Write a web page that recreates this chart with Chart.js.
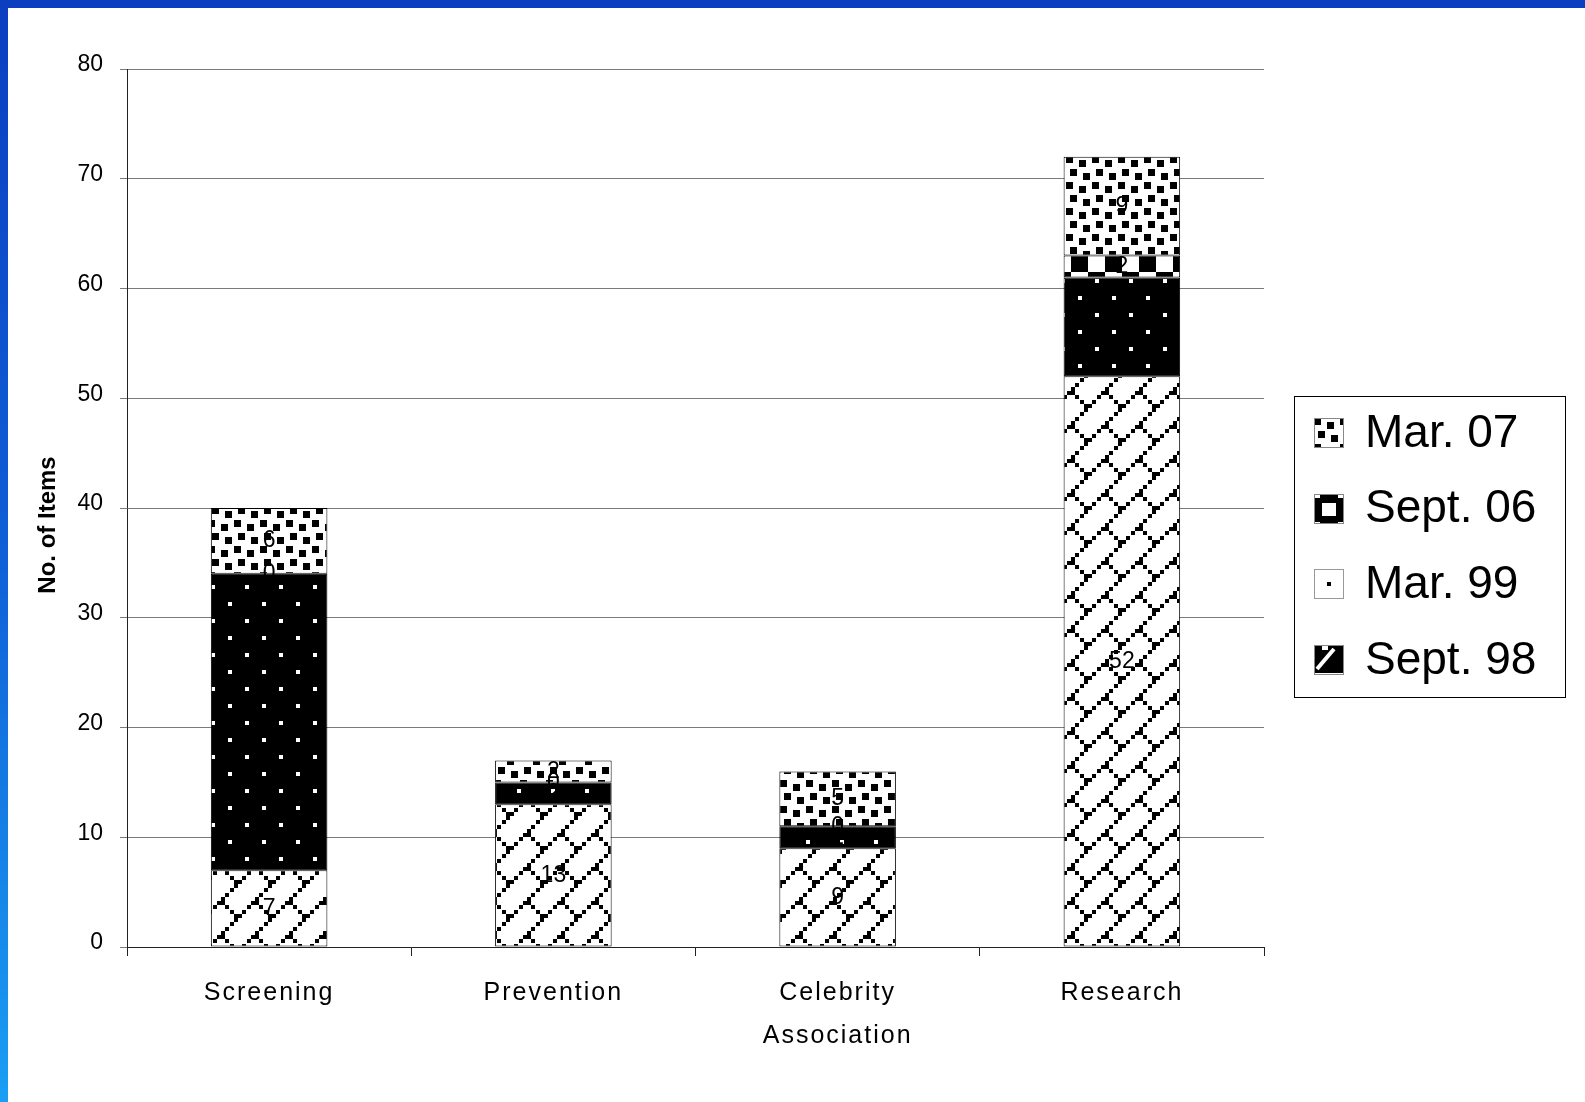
<!DOCTYPE html>
<html>
<head>
<meta charset="utf-8">
<title>No. of Items by category</title>
<script src="https://cdn.jsdelivr.net/npm/chart.js@4.4.1/dist/chart.umd.min.js"></script>
<style>
  html, body { margin: 0; padding: 0; background: #fff; overflow: hidden; }
  #wrap { position: relative; width: 1585px; height: 1102px; }
  #c { position: absolute; left: 0; top: 0; }
  #topbar { position: absolute; left: 0; top: 0; width: 1585px; height: 8px; background: #0b3fbf; }
  #leftbar { position: absolute; left: 0; top: 0; width: 8px; height: 1102px;
             background: linear-gradient(#0b3fbf, #0f5fd6 50%, #1a9ef4); }
</style>
</head>
<body>
<div id="wrap">
  <canvas id="c" width="1585" height="1102"></canvas>
  <div id="topbar"></div>
  <div id="leftbar"></div>
</div>
<script>
// ---- data ----
const categories = ['Screening', 'Prevention', ['Celebrity', 'Association'], 'Research'];
const seriesNames = ['Sept. 98', 'Mar. 99', 'Sept. 06', 'Mar. 07'];
const sept98 = [7, 13, 9, 52];
const mar99  = [27, 2, 2, 9];
const sept06 = [0, 0, 0, 2];
const mar07  = [6, 2, 5, 9];
const yMin = 0, yMax = 80, yStep = 10;
const yTitle = 'No. of Items';

const FONT = '"Liberation Sans", Arial, Helvetica, sans-serif';

// ---- fill patterns ----
const canvas = document.getElementById('c');
const mainCtx = canvas.getContext('2d');

function makePattern(size, draw) {
  const t = document.createElement('canvas');
  t.width = size; t.height = size;
  const g = t.getContext('2d');
  draw(g, size);
  return mainCtx.createPattern(t, 'repeat');
}

// diagonal brick
const brickPattern = makePattern(34, (g, s) => {
  g.fillStyle = '#fff'; g.fillRect(0, 0, s, s);
  g.fillStyle = '#000';
  for (let k = 0; k < 8; k++) {
    const x = Math.round(k * s / 8);
    g.fillRect(x, s - x - 4, 4, 4);
  }
  for (let k = 0; k < 4; k++) {
    const x = 17 + Math.round(k * s / 8);
    g.fillRect(x, x, 4, 4);
  }
});

// black with small white dots
const dottedBlackPattern = makePattern(34, (g, s) => {
  g.fillStyle = '#000'; g.fillRect(0, 0, s, s);
  g.fillStyle = '#fff';
  g.fillRect(7, 7, 4, 4);
  g.fillRect(24, 24, 4, 4);
});

// large checkerboard
const checkerPattern = makePattern(34, (g, s) => {
  g.fillStyle = '#fff'; g.fillRect(0, 0, s, s);
  g.fillStyle = '#000';
  g.fillRect(0, 0, 17, 17);
  g.fillRect(17, 17, 17, 17);
});

// confetti squares
const confettiPattern = makePattern(26, (g, s) => {
  g.fillStyle = '#fff'; g.fillRect(0, 0, s, s);
  g.fillStyle = '#000';
  [[0, 0], [13, 4], [4, 13], [17, 17]].forEach(([x, y]) => g.fillRect(x, y, 7, 7));
});

const fills = [brickPattern, dottedBlackPattern, checkerPattern, confettiPattern];

// ---- scales with spaced labels ----
const { CategoryScale, LinearScale } = Chart;

class SpacedCategoryScale extends CategoryScale {
  drawLabels(area) {
    const ctx = this.ctx;
    ctx.save();
    ctx.letterSpacing = '2px';
    super.drawLabels(area);
    ctx.restore();
  }
}
SpacedCategoryScale.id = 'spacedCategory';
SpacedCategoryScale.defaults = CategoryScale.defaults;

class ValueScale extends LinearScale {
  drawTitle() {
    const ctx = this.ctx;
    ctx.save();
    ctx.translate(0, 17);
    super.drawTitle();
    ctx.restore();
  }
}
ValueScale.id = 'valueScale';
ValueScale.defaults = LinearScale.defaults;

Chart.register(SpacedCategoryScale, ValueScale);

// ---- value labels in the middle of each segment ----
const segmentLabels = {
  id: 'segmentLabels',
  afterDatasetsDraw(chart) {
    const ctx = chart.ctx;
    ctx.save();
    ctx.font = '23px ' + FONT;
    ctx.fillStyle = '#000';
    ctx.textAlign = 'center';
    ctx.textBaseline = 'middle';
    chart.data.datasets.forEach((ds, i) => {
      const meta = chart.getDatasetMeta(i);
      meta.data.forEach((bar, j) => {
        const p = bar.getProps(['x', 'y', 'base'], true);
        ctx.fillText(String(ds.data[j]), p.x, (p.y + p.base) / 2);
      });
    });
    ctx.restore();
  }
};

// ---- boxed legend on the right ----
function drawSwatch(ctx, idx, x, y, s) {
  ctx.save();
  if (idx === 3) {            // Mar. 07
    ctx.fillStyle = confettiPattern;
    ctx.translate(x, y);
    ctx.fillRect(0, 0, s, s);
    ctx.strokeStyle = '#888'; ctx.lineWidth = 1;
    ctx.strokeRect(0.5, 0.5, s - 1, s - 1);
  } else if (idx === 2) {     // Sept. 06
    ctx.fillStyle = '#000';
    ctx.fillRect(x, y + 4, s, s - 6);
    ctx.fillRect(x + 6, y, s - 12, s);
    ctx.fillStyle = '#fff';
    ctx.fillRect(x + 8, y + 9, s - 16, s - 17);
    ctx.strokeStyle = '#888'; ctx.lineWidth = 1;
    ctx.strokeRect(x + 0.5, y + 0.5, s - 1, s - 1);
  } else if (idx === 1) {     // Mar. 99
    ctx.fillStyle = '#fff';
    ctx.fillRect(x, y, s, s);
    ctx.strokeStyle = '#999'; ctx.lineWidth = 1;
    ctx.strokeRect(x + 0.5, y + 0.5, s - 1, s - 1);
    ctx.fillStyle = '#000';
    ctx.fillRect(x + s / 2 - 2, y + s / 2 - 2, 4, 4);
  } else {                    // Sept. 98
    ctx.fillStyle = '#000';
    ctx.fillRect(x, y, s, s - 2);
    ctx.strokeStyle = '#fff'; ctx.lineWidth = 4;
    ctx.beginPath();
    ctx.moveTo(x + 3, y + s - 6);
    ctx.lineTo(x + s - 10, y + 4);
    ctx.stroke();
    ctx.fillStyle = '#fff';
    ctx.fillRect(x + 8, y, 6, 5);
    ctx.strokeStyle = '#888'; ctx.lineWidth = 1;
    ctx.strokeRect(x + 0.5, y + 0.5, s - 1, s - 1);
  }
  ctx.restore();
}

const boxedLegend = {
  id: 'boxedLegend',
  afterDraw(chart) {
    const ctx = chart.ctx;
    const left = 1294, top = 396, width = 271, height = 301;
    ctx.save();
    ctx.fillStyle = '#fff';
    ctx.fillRect(left, top, width, height);
    ctx.strokeStyle = '#000';
    ctx.lineWidth = 1;
    ctx.strokeRect(left + 0.5, top + 0.5, width, height);
    ctx.font = '46px ' + FONT;
    ctx.fillStyle = '#000';
    ctx.textAlign = 'left';
    ctx.textBaseline = 'middle';
    const order = chart.data.datasets.map((_, i) => i).reverse();
    order.forEach((dsIndex, row) => {
      const cy = top + 37 + row * 75.7;
      drawSwatch(ctx, dsIndex, left + 20, Math.round(cy - 15), 30);
      ctx.fillText(chart.data.datasets[dsIndex].label, left + 71, cy + 1);
    });
    ctx.restore();
  }
};

// ---- chart ----
const seriesValues = [sept98, mar99, sept06, mar07];
const datasets = seriesNames.map((name, i) => ({
  label: name,
  data: seriesValues[i],
  backgroundColor: fills[i],
  borderColor: '#000',
  borderWidth: 1,
  borderSkipped: false,
  barPercentage: 0.41,
  categoryPercentage: 1.0
}));

Chart.defaults.font.family = FONT;
Chart.defaults.color = '#000';

new Chart(canvas, {
  type: 'bar',
  data: { labels: categories, datasets },
  options: {
    responsive: false,
    animation: false,
    devicePixelRatio: 1,
    layout: { padding: { top: 69, right: 321, bottom: 0, left: 0 } },
    plugins: {
      legend: { display: false },
      tooltip: { enabled: false }
    },
    scales: {
      x: {
        type: 'spacedCategory',
        stacked: true,
        offset: true,
        afterFit(scale) { scale.height = 1102 - 947; },
        grid: {
          offset: true,
          drawOnChartArea: false,
          drawTicks: true,
          tickLength: 9,
          color: '#222'
        },
        border: { color: '#222', width: 1 },
        ticks: {
          font: { size: 25, lineHeight: 1.72 },
          color: '#000',
          padding: 16,
          maxRotation: 0,
          autoSkip: false
        }
      },
      y: {
        type: 'valueScale',
        stacked: true,
        min: yMin,
        max: yMax,
        afterFit(scale) { scale.width = 127; },
        grid: {
          color: '#7a7a7a',
          lineWidth: 1,
          tickLength: 7,
          drawTicks: true
        },
        border: { color: '#222', width: 1 },
        ticks: {
          stepSize: yStep,
          font: { size: 23 },
          color: '#000',
          padding: 17,
          labelOffset: -4
        },
        title: {
          display: true,
          text: yTitle,
          font: { size: 24, weight: 'bold' },
          color: '#000',
          padding: { top: 34, bottom: 0 }
        }
      }
    }
  },
  plugins: [segmentLabels, boxedLegend]
});
</script>
</body>
</html>
